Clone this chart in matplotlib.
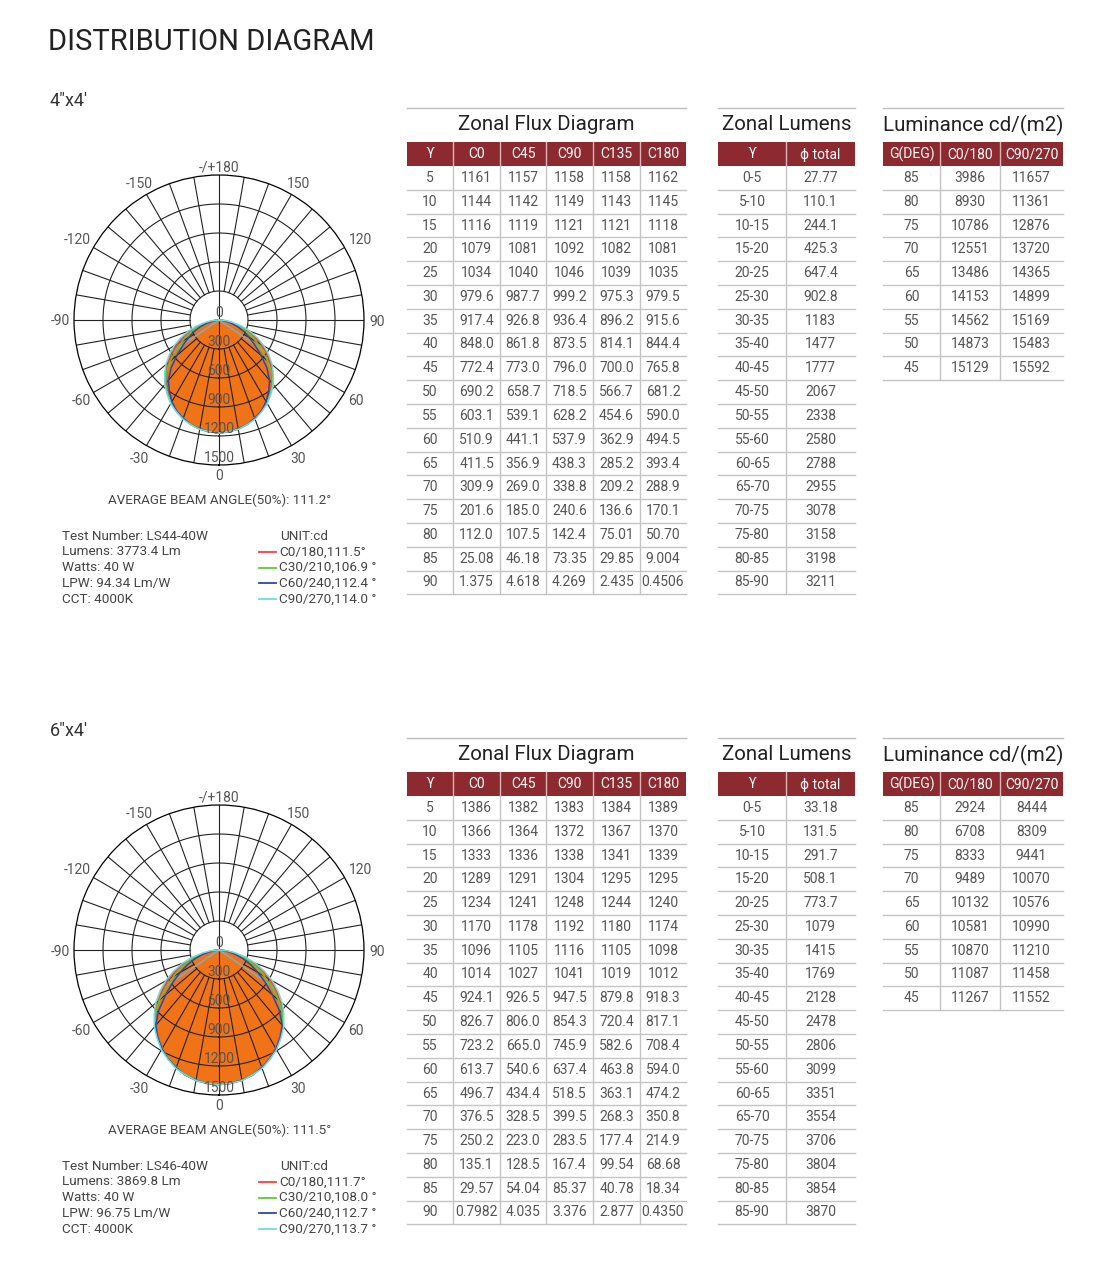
#!/usr/bin/env python3

import numpy as np
import matplotlib
matplotlib.use('Agg')
import matplotlib.pyplot as plt
from matplotlib.patches import Rectangle

plt.rcParams['font.family'] = ['Roboto', 'DejaVu Sans']

W, H = 1114, 1280

# ---- data -------------------------------------------------------------
GAMMA = [5, 10, 15, 20, 25, 30, 35, 40, 45, 50, 55, 60, 65, 70, 75, 80, 85, 90]
FLUX_COLS = ['C0', 'C45', 'C90', 'C135', 'C180']
ZONES = ['0-5', '5-10', '10-15', '15-20', '20-25', '25-30', '30-35', '35-40',
         '40-45', '45-50', '50-55', '55-60', '60-65', '65-70', '70-75',
         '75-80', '80-85', '85-90']
LUM_DEG = [85, 80, 75, 70, 65, 60, 55, 50, 45]

# 4"x4'
p1_c0 = ['1161', '1144', '1116', '1079', '1034', '979.6', '917.4', '848.0', '772.4',
         '690.2', '603.1', '510.9', '411.5', '309.9', '201.6', '112.0', '25.08', '1.375']
p1_c45 = ['1157', '1142', '1119', '1081', '1040', '987.7', '926.8', '861.8', '773.0',
          '658.7', '539.1', '441.1', '356.9', '269.0', '185.0', '107.5', '46.18', '4.618']
p1_c90 = ['1158', '1149', '1121', '1092', '1046', '999.2', '936.4', '873.5', '796.0',
          '718.5', '628.2', '537.9', '438.3', '338.8', '240.6', '142.4', '73.35', '4.269']
p1_c135 = ['1158', '1143', '1121', '1082', '1039', '975.3', '896.2', '814.1', '700.0',
           '566.7', '454.6', '362.9', '285.2', '209.2', '136.6', '75.01', '29.85', '2.435']
p1_c180 = ['1162', '1145', '1118', '1081', '1035', '979.5', '915.6', '844.4', '765.8',
           '681.2', '590.0', '494.5', '393.4', '288.9', '170.1', '50.70', '9.004', '0.4506']
p1_zonal = ['27.77', '110.1', '244.1', '425.3', '647.4', '902.8', '1183', '1477', '1777',
            '2067', '2338', '2580', '2788', '2955', '3078', '3158', '3198', '3211']
p1_lum_c0 = ['3986', '8930', '10786', '12551', '13486', '14153', '14562', '14873', '15129']
p1_lum_c90 = ['11657', '11361', '12876', '13720', '14365', '14899', '15169', '15483', '15592']
p1_peak = 1170  # estimated intensity at 0 deg
p1_beam = 111.2
p1_info = ['Test Number: LS44-40W', 'Lumens: 3773.4 Lm', 'Watts: 40 W',
           'LPW: 94.34 Lm/W', 'CCT: 4000K']
p1_legend = ['C0/180,111.5°', 'C30/210,106.9 °', 'C60/240,112.4 °', 'C90/270,114.0 °']

# 6"x4'
p2_c0 = ['1386', '1366', '1333', '1289', '1234', '1170', '1096', '1014', '924.1',
         '826.7', '723.2', '613.7', '496.7', '376.5', '250.2', '135.1', '29.57', '0.7982']
p2_c45 = ['1382', '1364', '1336', '1291', '1241', '1178', '1105', '1027', '926.5',
          '806.0', '665.0', '540.6', '434.4', '328.5', '223.0', '128.5', '54.04', '4.035']
p2_c90 = ['1383', '1372', '1338', '1304', '1248', '1192', '1116', '1041', '947.5',
          '854.3', '745.9', '637.4', '518.5', '399.5', '283.5', '167.4', '85.37', '3.376']
p2_c135 = ['1384', '1367', '1341', '1295', '1244', '1180', '1105', '1019', '879.8',
           '720.4', '582.6', '463.8', '363.1', '268.3', '177.4', '99.54', '40.78', '2.877']
p2_c180 = ['1389', '1370', '1339', '1295', '1240', '1174', '1098', '1012', '918.3',
           '817.1', '708.4', '594.0', '474.2', '350.8', '214.9', '68.68', '18.34', '0.4350']
p2_zonal = ['33.18', '131.5', '291.7', '508.1', '773.7', '1079', '1415', '1769', '2128',
            '2478', '2806', '3099', '3351', '3554', '3706', '3804', '3854', '3870']
p2_lum_c0 = ['2924', '6708', '8333', '9489', '10132', '10581', '10870', '11087', '11267']
p2_lum_c90 = ['8444', '8309', '9441', '10070', '10576', '10990', '11210', '11458', '11552']
p2_peak = 1392
p2_beam = 111.5
p2_info = ['Test Number: LS46-40W', 'Lumens: 3869.8 Lm', 'Watts: 40 W',
           'LPW: 96.75 Lm/W', 'CCT: 4000K']
p2_legend = ['C0/180,111.7°', 'C30/210,108.0 °', 'C60/240,112.7 °', 'C90/270,113.7 °']

# ---- style ------------------------------------------------------------
RED_HDR = '#8d2a2f'
TXT = '#555555'
GRID = '#c4c4c4'
ORANGE = '#f07318'
CURVE_COLORS = ['#ff3b3b', '#5cc93a', '#2a48b0', '#6fdcdc']
ROW_H = 23.8


def polar_panel(fig, cy, peak, right, left, mids, beam):
    R = 145
    pax = fig.add_axes([(219 - R) / W, 1 - (cy + R) / H, 2 * R / W, 2 * R / H],
                       projection='polar')
    pax.set_theta_zero_location('S')
    pax.set_theta_direction(1)
    pax.set_ylim(0, 1500)
    pax.grid(False)
    pax.set_xticks([])
    pax.set_yticks([])
    pax.spines['polar'].set_linewidth(0.9)
    pax.patch.set_alpha(0)

    g = np.radians([0] + GAMMA)

    def curve(r_right, r_left):
        rr = [peak] + [float(v) for v in r_right]
        rl = [peak] + [float(v) for v in r_left]
        th = np.concatenate([-g[::-1], g[1:]])
        r = np.concatenate([rl[::-1], rr[1:]])
        return th, r

    th_c, r_c = curve(mids[1], mids[1])
    pax.fill(th_c, r_c, color=ORANGE, zorder=1, lw=0)

    # grid rings and spokes
    full = np.linspace(0, 2 * np.pi, 400)
    for ring in [300, 600, 900, 1200]:
        pax.plot(full, np.full_like(full, ring), color='#222222', lw=0.8, zorder=2)
    for a in range(0, 360, 10):
        r0 = 0 if a in (0, 180) else 300
        pax.plot([np.radians(a)] * 2, [r0, 1500], color='#222222', lw=0.8, zorder=2)

    # beam angle lines
    half = beam / 2
    for sgn, vals in [(1, right), (-1, left)]:
        rv = np.interp(half, [0] + GAMMA, [peak] + [float(v) for v in vals])
        pax.plot([0, np.radians(sgn * half)], [0, rv], color='#86a9b2', lw=1.2, zorder=3)

    curves = [(right, left), (mids[0], mids[0]), (mids[2], mids[2]), (mids[1], mids[1])]
    for (cr, cl), col in zip(curves, CURVE_COLORS):
        th, r = curve(cr, cl)
        pax.plot(th, r, color=col, lw=1.1, zorder=4)

    # labels
    pax.text(np.pi, 70, '0', ha='center', va='center', color=TXT, fontsize=10, zorder=5)
    for ring in [300, 600, 900, 1200, 1500]:
        pax.text(0, ring - 70, str(ring), ha='center', va='center', color=TXT,
                 fontsize=10, zorder=5)
    ang_labels = {0: '0', 30: '30', 60: '60', 90: '90', 120: '120', 150: '150',
                  180: '-/+180', 210: '-150', 240: '-120', 270: '-90', 300: '-60',
                  330: '-30'}
    ang_r = {0: 1600, 180: 1590, 120: 1690, 240: 1690}
    for a, s in ang_labels.items():
        pax.text(np.radians(a), ang_r.get(a, 1640), s, ha='center',
                 va='center_baseline', color=TXT, fontsize=10, clip_on=False)


def table(ax, x_edges, top, title, headers, columns):
    x0, x1 = x_edges[0], x_edges[-1]
    ax.plot([x0, x1], [top, top], color='#bdbdbd', lw=1)
    ax.text((x0 + x1) / 2, top + 17, title, ha='center', va='center',
            fontsize=14.8, color='#222222')
    hy = top + 34
    ax.add_patch(Rectangle((x0, hy), x1 - x0, 24, color=RED_HDR, lw=0))
    for i, h in enumerate(headers):
        ax.text((x_edges[i] + x_edges[i + 1]) / 2, hy + 12.5, h, ha='center',
                va='center', color='white', fontsize=10)
    for xe in x_edges[1:-1]:
        ax.plot([xe, xe], [hy, hy + 24], color='#d9b3b5', lw=1)
    n = len(columns[0])
    ys = hy + 24
    for j in range(n):
        for i, col in enumerate(columns):
            ax.text((x_edges[i] + x_edges[i + 1]) / 2, ys + ROW_H * (j + 0.5), str(col[j]),
                    ha='center', va='center', color=TXT, fontsize=10)
        ax.plot([x0, x1], [ys + ROW_H * (j + 1)] * 2, color=GRID, lw=1)
    for xe in x_edges[1:-1]:
        ax.plot([xe, xe], [ys, ys + ROW_H * n], color=GRID, lw=1)


def panel(fig, ax, dy, name, flux, zonal, lum_c0, lum_c90, peak, beam, info, legend):
    ax.text(50, 101 + dy, name, ha='left', va='center', fontsize=13, color='#333333')
    c0, c45, c90, c135, c180 = flux
    polar_panel(fig, 320 + dy, peak, c0, c180, [c45, c90, c135], beam)
    ax.text(220, 500 + dy, 'AVERAGE BEAM ANGLE(50%%): %.1f°' % beam, ha='center',
            va='center', fontsize=9.6, color='#444444')
    for k, s in enumerate(info):
        ax.text(62, 536 + dy + 15.8 * k, s, ha='left', va='center', fontsize=9.7,
                color='#444444')
    ax.text(280, 536 + dy, 'UNIT:cd', ha='left', va='center', fontsize=9.7, color='#444444')
    for k, (s, col) in enumerate(zip(legend, CURVE_COLORS)):
        y = 536 + dy + 15.8 * (k + 1)
        ax.plot([259, 276], [y, y], color=col, lw=1.3)
        ax.text(279, y, s, ha='left', va='center', fontsize=9.7, color='#444444')

    top = 108 + dy
    table(ax, [407, 453, 500, 546, 593, 640, 686], top, 'Zonal Flux Diagram',
          ['ϒ'] + FLUX_COLS, [GAMMA] + list(flux))
    table(ax, [718, 786, 855], top, 'Zonal Lumens', ['ϒ', 'ϕ total'], [ZONES, zonal])
    table(ax, [883, 940, 1000, 1063], top, 'Luminance cd/(m2)',
          ['G(DEG)', 'C0/180', 'C90/270'], [LUM_DEG, lum_c0, lum_c90])


def main():
    fig = plt.figure(figsize=(W / 100, H / 100), dpi=100)
    ax = fig.add_axes([0, 0, 1, 1])
    ax.set_xlim(0, W)
    ax.set_ylim(H, 0)
    ax.axis('off')

    ax.text(48, 42, 'DISTRIBUTION DIAGRAM', ha='left', va='center', fontsize=21,
            color='#222222')

    panel(fig, ax, 0, '4"x4\'', [p1_c0, p1_c45, p1_c90, p1_c135, p1_c180], p1_zonal,
          p1_lum_c0, p1_lum_c90, p1_peak, p1_beam, p1_info, p1_legend)
    panel(fig, ax, 630, '6"x4\'', [p2_c0, p2_c45, p2_c90, p2_c135, p2_c180], p2_zonal,
          p2_lum_c0, p2_lum_c90, p2_peak, p2_beam, p2_info, p2_legend)

    fig.savefig('out.png', dpi=100, facecolor='white')
    return 0


if __name__ == "__main__":
    exit(main())
